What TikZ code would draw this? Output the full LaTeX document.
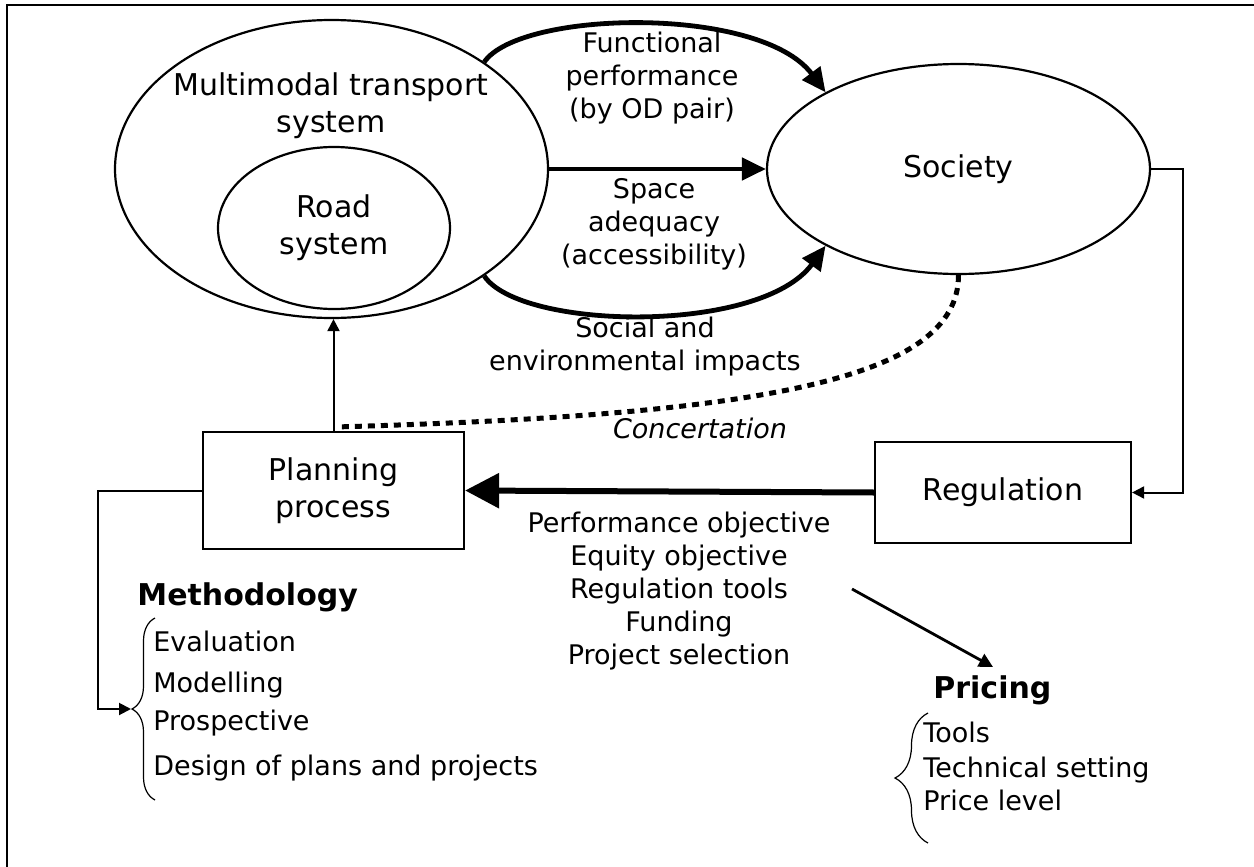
\documentclass[tikz,border=0pt]{standalone}
\usepackage{fontspec}
\setmainfont{DejaVu Sans}
\usepackage{tikz}
\usetikzlibrary{arrows.meta,shapes.geometric,decorations.pathreplacing}

\begin{document}
\begin{tikzpicture}[x=0.5pt,y=-0.5pt,
        big/.style={font=\fontsize{15}{18.5}\selectfont, align=center},
        txt/.style={font=\fontsize{13.5}{16.5}\selectfont, align=center, inner sep=0pt},
        head/.style={font=\fontsize{15}{18}\selectfont\bfseries, inner sep=0pt, anchor=base west},
        item/.style={font=\fontsize{13.5}{16.5}\selectfont, inner sep=0pt, anchor=base west},
        ell/.style={shape=ellipse, draw=black, line width=1.1pt, inner sep=0pt},
        box/.style={shape=rectangle, draw=black, line width=1.1pt, big},
        flow/.style={line width=2.4pt, -{Triangle[length=12pt,width=11pt]}},
        link/.style={line width=1pt, -{Triangle[length=6pt,width=6pt]}},
        curly/.style={decorate, decoration={brace, amplitude=#1}, line width=0.6pt}]
        \useasboundingbox (0,0) rectangle (1254,867);
        \draw[line width=1.2pt] (7,867) -- (7,5) -- (1254,5);

        % systems and society
        \node[ell, minimum width=216.5pt, minimum height=149pt] (MTS) at (331.5,169) {};
        \node[big, inner sep=0pt] (MTSlabel) at (331,106) {Multimodal transport\\system};
        \node[ell, big, minimum width=116pt, minimum height=81pt] (Road) at (334,228) {Road\\system};
        \node[ell, big, minimum width=191.5pt, minimum height=105pt] (Society) at (958.5,169) {Society};

        \node[box, minimum width=130.5pt, minimum height=58.5pt] (Planning) at (333.5,490.5) {Planning\\process};
        \node[box, minimum width=128pt, minimum height=50.5pt] (Regulation) at (1003,492.5) {Regulation};

        % effects of the transport system
        \draw[flow] (MTS.35) .. controls (520,10) and (760,5) .. (Society.150);
        \draw[flow] (MTS.east) -- (Society.west);
        \draw[flow] (MTS.-35) .. controls (520,330) and (760,335) .. (Society.-150);
        \node[txt] (functional) at (652,78.5) {Functional\\performance\\(by OD pair)};
        \node[txt] (space) at (654,224) {Space\\adequacy\\(accessibility)};
        \node[txt] (impacts) at (645,347) {Social and\\environmental impacts};

        % feedback loop
        \draw[link] (Society.east) -- ++(32,0) |- (Regulation.east);
        \draw[line width=3pt, -{Triangle[length=17pt,width=17pt]}] (Regulation.west) -- (Planning.east);
        \draw[link] (Planning.north) -- (Planning.north |- MTS.south);
        \draw[line width=2.5pt, dash pattern=on 3.5pt off 3pt] (Society.south) .. controls (958.5,380) and (760,415) .. ([xshift=2.5pt,yshift=2pt]Planning.north);
        \node[txt, anchor=base, font=\fontsize{13.5}{16.5}\selectfont\itshape] (concert) at (700,438) {Concertation};
        \node[txt] (objectives) at (679,591.5) {Performance objective\\Equity objective\\Regulation tools\\Funding\\Project selection};

        % methodology
        \coordinate (methtip) at (131,709);
        \draw[link] (Planning.west) -- ++(-104,0) |- (methtip);
        \node[head] (methodology) at (137,605) {Methodology};
        \foreach \name/\y/\text in {eval/651/Evaluation, model/692/Modelling, prosp/730/Prospective, design/775/Design of plans and projects}
            \node[item] (\name) at (153,\y) {\text};
        \draw[curly=11.5pt] (155,800) -- (155,618);

        % pricing
        \coordinate (prfrom) at (852,589);
        \coordinate (prto) at (993,667);
        \draw[line width=1.4pt, -{Triangle[length=7pt,width=7pt]}] (prfrom) -- (prto);
        \node[head] (pricing) at (933,698) {Pricing};
        \foreach \name/\y/\text in {tools/742/Tools, setting/777/Technical setting, level/810/Price level}
            \node[item] (\name) at (923,\y) {\text};
        \draw[curly=16.5pt] (928,843) -- (928,713);
    \end{tikzpicture}
\end{document}
